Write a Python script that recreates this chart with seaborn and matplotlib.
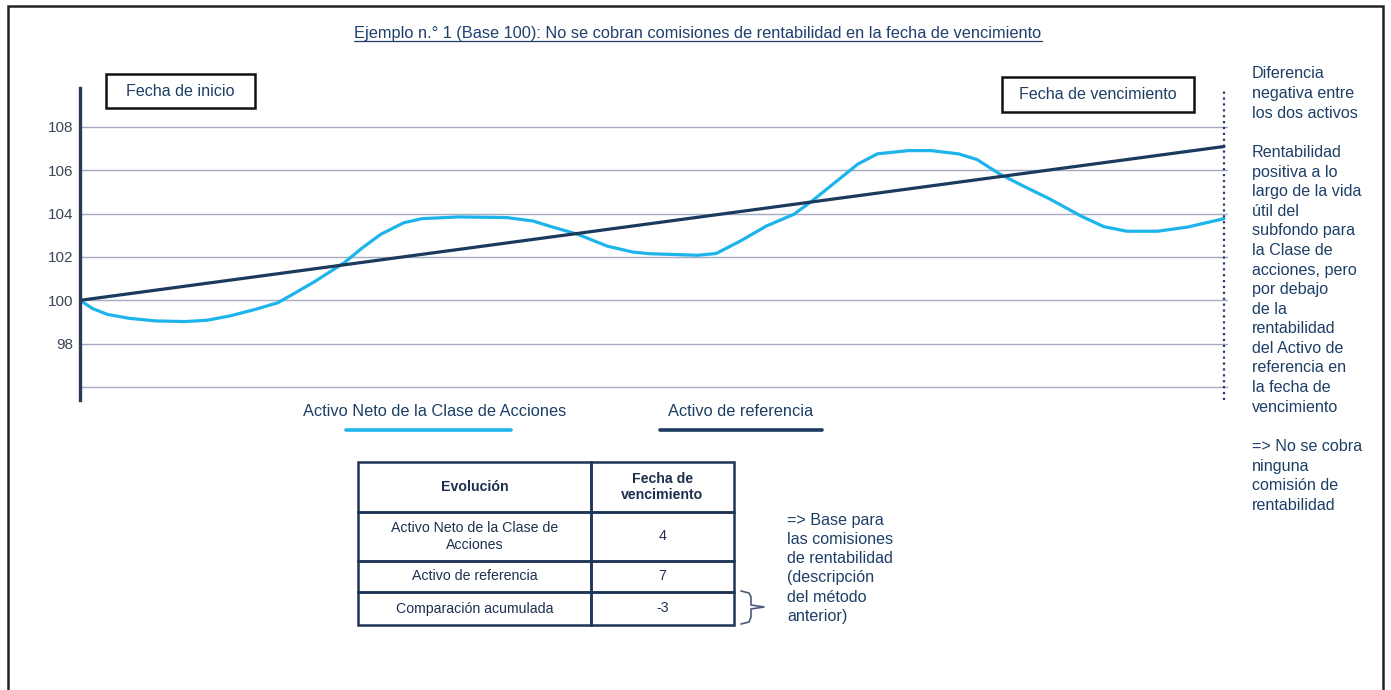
import numpy as np
import pandas as pd
import seaborn as sns
import matplotlib.pyplot as plt
from matplotlib.lines import Line2D
from matplotlib.patches import Rectangle

W, H = 1391, 690

# Data (x = time, 0 = start, 100 = maturity)
t_clase = [0, 1.1, 2.4, 4.3, 6.6, 9.2, 11.1, 13.1, 15.3, 17.3, 18.6, 20.5, 23.1, 24.7,
           26.3, 28.3, 29.9, 33.1, 37.3, 39.6, 41.2, 43.5, 46.1, 48.3, 49.8, 51.6, 54.0,
           55.6, 57.7, 60.0, 62.4, 64.0, 66.0, 68.0, 69.7, 72.4, 74.4, 76.8, 78.4, 80.4,
           82.4, 84.8, 87.5, 89.5, 91.5, 94.2, 96.8, 100]
v_clase = [100, 99.62, 99.35, 99.17, 99.05, 99.02, 99.08, 99.28, 99.58, 99.89, 100.28,
           100.86, 101.74, 102.43, 103.05, 103.58, 103.77, 103.85, 103.82, 103.66, 103.4,
           103.05, 102.5, 102.23, 102.15, 102.12, 102.08, 102.16, 102.73, 103.43, 103.97,
           104.59, 105.44, 106.29, 106.76, 106.91, 106.91, 106.76, 106.5, 105.83, 105.29,
           104.67, 103.89, 103.4, 103.19, 103.19, 103.38, 103.77]
t_ref = [0, 100]
v_ref = [100, 107.1]

series_names = ['Activo Neto de la Clase de Acciones', 'Activo de referencia']
y_ticks = [96, 98, 100, 102, 104, 106, 108]
y_labels = ['', '98', '100', '102', '104', '106', '108']

title = 'Ejemplo n.° 1 (Base 100): No se cobran comisiones de rentabilidad en la fecha de vencimiento'
note_right = ['Diferencia', 'negativa entre', 'los dos activos', '',
              'Rentabilidad', 'positiva a lo', 'largo de la vida', 'útil del',
              'subfondo para', 'la Clase de', 'acciones, pero', 'por debajo', 'de la',
              'rentabilidad', 'del Activo de', 'referencia en', 'la fecha de',
              'vencimiento', '', '=> No se cobra', 'ninguna', 'comisión de', 'rentabilidad']
note_table = ['=> Base para', 'las comisiones', 'de rentabilidad', '(descripción',
              'del método', 'anterior)']
table_head = ['Evolución', 'Fecha de\nvencimiento']
table_rows = ['Activo Neto de la Clase de\nAcciones', 'Activo de referencia',
              'Comparación acumulada']
table_vals = ['4', '7', '-3']

LIGHT = '#1db4ec'
DARK = '#1b3a5e'
NAVY = '#1d3f66'
GRID = '#a3aac2'

sns.set_theme(style='white')
plt.rcParams['font.family'] = ['Liberation Sans', 'DejaVu Sans']


def fx(x):
    return x / W


def fy(y):
    return 1 - y / H


df = pd.concat([
    pd.DataFrame({'t': t_clase, 'valor': v_clase, 'serie': series_names[0]}),
    pd.DataFrame({'t': t_ref, 'valor': v_ref, 'serie': series_names[1]}),
])

fig = plt.figure(figsize=(W / 100, H / 100), dpi=100)
fig.patch.set_facecolor('white')
ax = fig.add_axes([fx(80), fy(400), fx(1228) - fx(80), fy(88) - fy(400)])

ax.yaxis.grid(True, color=GRID, lw=1)
ax.set_axisbelow(True)
sns.lineplot(data=df, x='t', y='valor', hue='serie', palette=[LIGHT, DARK],
             estimator=None, sort=False, linewidth=2.3, legend=False, ax=ax,
             solid_joinstyle='round', solid_capstyle='round')

ax.set_xlim(0, 100.35)
ax.set_ylim(95.4, 109.8)
ax.set_yticks(y_ticks)
ax.set_yticklabels(y_labels, fontsize=11, color='#3b4556')
ax.set_xticks([])
ax.tick_params(axis='y', length=0, pad=5)
ax.set_xlabel('')
ax.set_ylabel('')
for s in ['top', 'right', 'bottom']:
    ax.spines[s].set_visible(False)
ax.spines['left'].set_color('#2b3a55')
ax.spines['left'].set_linewidth(2.4)
ax.axvline(100, color='#2b3a6a', ls=':', lw=1.6, clip_on=False)

# outer frame
fig.add_artist(Rectangle((fx(8), fy(700)), fx(1383) - fx(8), fy(6) - fy(700),
                         transform=fig.transFigure, fill=False, ec='#222222', lw=1.8))

# title with underline
tt = fig.text(fx(698), fy(38), title, ha='center', va='baseline', fontsize=11.8,
              color='#1f3f6f')
fig.canvas.draw()
bb = tt.get_window_extent(fig.canvas.get_renderer()).transformed(fig.transFigure.inverted())
fig.add_artist(Line2D([bb.x0, bb.x1], [fy(41), fy(41)], transform=fig.transFigure,
                      color='#1f3f6f', lw=0.9))

# date boxes
for label, (x0, y0, x1, y1) in [('Fecha de inicio', (106, 74, 255, 108)),
                                ('Fecha de vencimiento', (1002, 77, 1194, 112))]:
    fig.add_artist(Rectangle((fx(x0), fy(y1)), fx(x1) - fx(x0), fy(y0) - fy(y1),
                             transform=fig.transFigure, fill=False, ec='#111111', lw=1.8))
    fig.text(fx((x0 + x1) / 2), fy((y0 + y1) / 2), label, ha='center', va='center',
             fontsize=11.6, color=NAVY)

# legend
for name, col, xc, (l0, l1) in [(series_names[0], LIGHT, 435, (346, 511)),
                                (series_names[1], DARK, 741, (660, 822))]:
    fig.text(fx(xc), fy(412), name, ha='center', va='center', fontsize=11.8, color=NAVY)
    fig.add_artist(Line2D([fx(l0), fx(l1)], [fy(430), fy(430)], transform=fig.transFigure,
                          color=col, lw=2.6))

# right-hand note
for i, line in enumerate(note_right):
    fig.text(fx(1252), fy(74 + i * 19.6), line, ha='left', va='center',
             fontsize=11.6, color=NAVY)

# table
xs = [358, 591, 734]
ys = [462, 512, 561, 592, 625]
for r in range(4):
    for c in range(2):
        fig.add_artist(Rectangle((fx(xs[c]), fy(ys[r + 1])), fx(xs[c + 1]) - fx(xs[c]),
                                 fy(ys[r]) - fy(ys[r + 1]), transform=fig.transFigure,
                                 fill=False, ec='#1f3458', lw=1.8))
cells = [table_head] + [[a, b] for a, b in zip(table_rows, table_vals)]
for r, row in enumerate(cells):
    for c, txt in enumerate(row):
        fig.text(fx((xs[c] + xs[c + 1]) / 2), fy((ys[r] + ys[r + 1]) / 2), txt,
                 ha='center', va='center', fontsize=10.2, color='#1f2f4f',
                 fontweight='bold' if r == 0 else 'normal', linespacing=1.25)

# brace next to the table
bx = [741, 749, 751, 751, 764, 751, 751, 749, 741]
by = [591, 593, 597, 605, 607, 609, 617, 622, 624]
fig.add_artist(Line2D([fx(v) for v in bx], [fy(v) for v in by], transform=fig.transFigure,
                      color='#4a5a78', lw=1.2))

for i, line in enumerate(note_table):
    fig.text(fx(787), fy(520 + i * 19.3), line, ha='left', va='center',
             fontsize=11.6, color=NAVY)

fig.savefig('out.png', dpi=100, facecolor='white')
